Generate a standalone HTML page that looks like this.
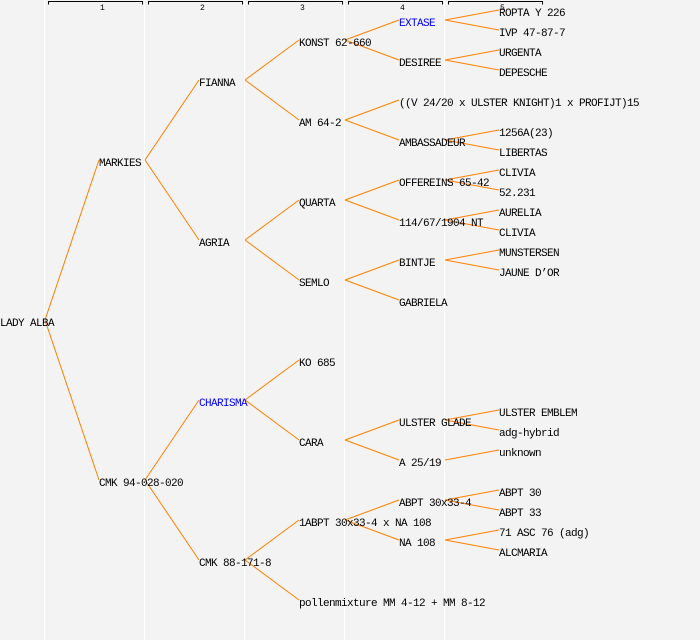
<!DOCTYPE html>
<html><head><meta charset="utf-8"><style>
html,body{margin:0;padding:0;background:#f3f3f3;}
svg{display:block}
text{font-family:"Liberation Mono",monospace;font-size:11px;letter-spacing:-0.6px;fill:#000}
.b{fill:#0000ff}
.h{font-size:8px;letter-spacing:0}
</style></head><body>
<svg width="700" height="640" xmlns="http://www.w3.org/2000/svg">
<rect width="700" height="640" fill="#f3f3f3"/>
<g stroke="#fff" stroke-width="1">
<line x1="44.5" y1="0" x2="44.5" y2="640"/><line x1="144.5" y1="0" x2="144.5" y2="640"/><line x1="244.5" y1="0" x2="244.5" y2="640"/><line x1="344.5" y1="0" x2="344.5" y2="640"/><line x1="444.5" y1="0" x2="444.5" y2="640"/>
</g>
<g stroke="#000" fill="none" stroke-width="1">
<path d="M48.5 4.5V1.5H142.5V4.5"/><path d="M148.5 4.5V1.5H242.5V4.5"/><path d="M248.5 4.5V1.5H342.5V4.5"/><path d="M348.5 4.5V1.5H442.5V4.5"/><path d="M448.5 4.5V1.5H542.5V4.5"/>
</g>
<text class="h" x="100" y="10">1</text><text class="h" x="200" y="10">2</text><text class="h" x="300" y="10">3</text><text class="h" x="400" y="10">4</text><text class="h" x="500" y="10">5</text>
<g stroke="#ff8000" stroke-width="1" fill="none">
<path d="M45 320L99 160M45 320L99 480"/>
<path d="M145 160L199 80M145 160L199 240M145 480L199 400M145 480L199 560"/>
<path d="M245 80L299 40M245 80L299 120M245 240L299 200M245 240L299 280M245 400L299 360M245 400L299 440M245 560L299 520M245 560L299 600"/>
<path d="M345 40L399 20M345 40L399 60M345 120L399 100M345 120L399 140M345 200L399 180M345 200L399 220M345 280L399 260M345 280L399 300M345 440L399 420M345 440L399 460M345 520L399 500M345 520L399 540"/>
<path d="M445 20L499 10M445 20L499 30M445 60L499 50M445 60L499 70M445 140L499 130M445 140L499 150M445 180L499 170M445 180L499 190M445 220L499 210M445 220L499 230M445 260L499 250M445 260L499 270M445 420L499 410M445 420L499 430M445 460L499 450M445 500L499 490M445 500L499 510M445 540L499 530M445 540L499 550"/>
</g>
<text x="0" y="326">LADY ALBA</text>
<text x="99" y="166">MARKIES</text>
<text x="99" y="486">CMK 94-028-020</text>
<text x="199" y="86">FIANNA</text>
<text x="199" y="246">AGRIA</text>
<text x="199" y="406" class="b">CHARISMA</text>
<text x="199" y="566">CMK 88-171-8</text>
<text x="299" y="46">KONST 62-660</text>
<text x="299" y="126">AM 64-2</text>
<text x="299" y="206">QUARTA</text>
<text x="299" y="286">SEMLO</text>
<text x="299" y="366">KO 685</text>
<text x="299" y="446">CARA</text>
<text x="299" y="526">1ABPT 30x33-4 x NA 108</text>
<text x="299" y="606">pollenmixture MM 4-12 + MM 8-12</text>
<text x="399" y="26" class="b">EXTASE</text>
<text x="399" y="66">DESIREE</text>
<text x="399" y="106">((V 24/20 x ULSTER KNIGHT)1 x PROFIJT)15</text>
<text x="399" y="146">AMBASSADEUR</text>
<text x="399" y="186">OFFEREINS 65-42</text>
<text x="399" y="226">114/67/1904 NT</text>
<text x="399" y="266">BINTJE</text>
<text x="399" y="306">GABRIELA</text>
<text x="399" y="426">ULSTER GLADE</text>
<text x="399" y="466">A 25/19</text>
<text x="399" y="506">ABPT 30x33-4</text>
<text x="399" y="546">NA 108</text>
<text x="499" y="16">ROPTA Y 226</text>
<text x="499" y="36">IVP 47-87-7</text>
<text x="499" y="56">URGENTA</text>
<text x="499" y="76">DEPESCHE</text>
<text x="499" y="136">1256A(23)</text>
<text x="499" y="156">LIBERTAS</text>
<text x="499" y="176">CLIVIA</text>
<text x="499" y="196">52.231</text>
<text x="499" y="216">AURELIA</text>
<text x="499" y="236">CLIVIA</text>
<text x="499" y="256">MUNSTERSEN</text>
<text x="499" y="276">JAUNE D’OR</text>
<text x="499" y="416">ULSTER EMBLEM</text>
<text x="499" y="436">adg-hybrid</text>
<text x="499" y="456">unknown</text>
<text x="499" y="496">ABPT 30</text>
<text x="499" y="516">ABPT 33</text>
<text x="499" y="536">71 ASC 76 (adg)</text>
<text x="499" y="556">ALCMARIA</text>
</svg>
</body></html>
